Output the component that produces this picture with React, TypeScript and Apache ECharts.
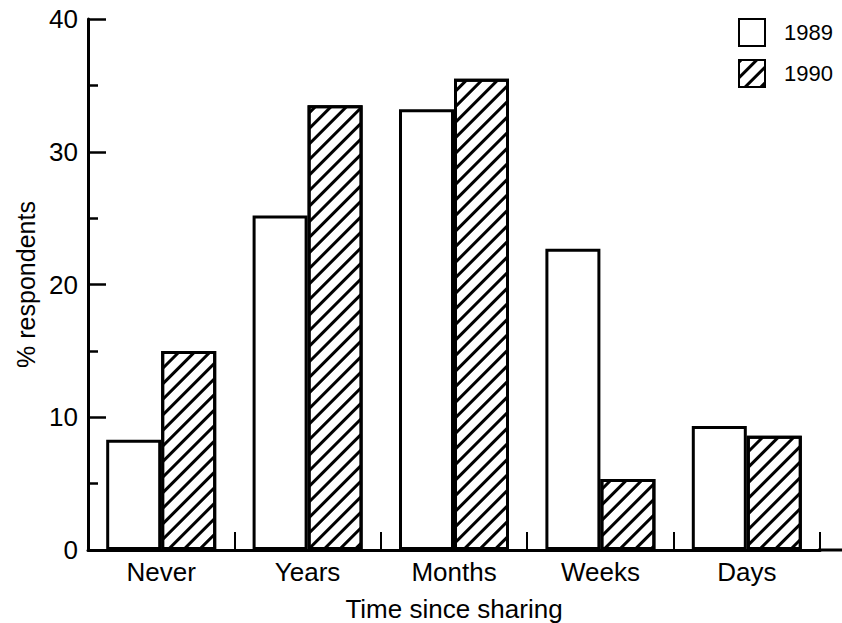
import React, { useEffect, useRef } from "react";
import * as echarts from "echarts";

const categories = ["Never", "Years", "Months", "Weeks", "Days"];
const values1989 = [8.3, 25.2, 33.2, 22.7, 9.35];
const values1990 = [15.0, 33.5, 35.5, 5.35, 8.6];
const seriesNames = ["1989", "1990"];
const yTicks = { min: 0, max: 40, interval: 10 };

const FONT = "'Liberation Sans', Arial, Helvetica, sans-serif";

export default function App() {
  const ref = useRef<HTMLDivElement>(null);
  useEffect(() => {
    document.body.style.margin = "0";
    const chart = echarts.init(ref.current!, null, { renderer: "svg" });
    const hatch = {
      symbol: "rect",
      symbolSize: 1,
      color: "#000",
      dashArrayX: [1, 0],
      dashArrayY: [2.2, 7.8],
      rotation: -Math.PI / 4,
    };
    chart.setOption({
      animation: false,
      backgroundColor: "#fff",
      textStyle: { fontFamily: FONT, color: "#000" },
      grid: { left: 88, right: 22, top: 19, bottom: 73, outerBoundsMode: "none", containLabel: false },
      legend: {
        orient: "vertical",
        left: 738,
        top: 18,
        padding: 0,
        itemWidth: 26,
        itemHeight: 27,
        itemGap: 12,
        icon: "rect",
        textStyle: { fontSize: 22, color: "#000", fontFamily: FONT, padding: [0, 0, 0, 14] },
        data: seriesNames,
      },
      xAxis: {
        type: "category",
        data: categories,
        name: "Time since sharing",
        nameLocation: "middle",
        nameGap: 46,
        nameTextStyle: { fontSize: 26, color: "#000", fontFamily: FONT },
        axisLine: { show: true, lineStyle: { color: "#000", width: 3 } },
        axisTick: { show: true, interval: 0, alignWithLabel: false, inside: true, length: 18, lineStyle: { color: "#000", width: 2 } },
        axisLabel: { fontSize: 26, color: "#000", margin: 9, fontFamily: FONT },
        splitLine: { show: false },
      },
      yAxis: {
        type: "value",
        min: yTicks.min,
        max: yTicks.max,
        interval: yTicks.interval,
        name: "% respondents",
        nameLocation: "middle",
        nameGap: 50,
        nameTextStyle: { fontSize: 25, color: "#000", fontFamily: FONT },
        axisLine: { show: true, lineStyle: { color: "#000", width: 3 } },
        axisTick: { show: true, inside: true, length: 18, lineStyle: { color: "#000", width: 2.5 } },
        minorTick: { show: true, splitNumber: 2, length: 10, lineStyle: { color: "#000", width: 2.5 } },
        axisLabel: { fontSize: 26, color: "#000", margin: 10, fontFamily: FONT },
        splitLine: { show: false },
      },
      series: [
        {
          name: seriesNames[0],
          type: "bar",
          data: values1989,
          barWidth: 55,
          barGap: "0%",
          itemStyle: { color: "#fff", borderColor: "#000", borderWidth: 3 },
        },
        {
          name: seriesNames[1],
          type: "bar",
          data: values1990,
          barWidth: 55,
          barGap: "0%",
          itemStyle: { color: "#fff", borderColor: "#000", borderWidth: 3, decal: hatch },
        },
      ],
      graphic: [
        {
          type: "line",
          shape: { x1: 818, y1: 550, x2: 842, y2: 550 },
          style: { stroke: "#000", lineWidth: 3 },
        },
      ],
    });
    return () => chart.dispose();
  }, []);
  return <div ref={ref} style={{ width: 842, height: 623 }} />;
}
